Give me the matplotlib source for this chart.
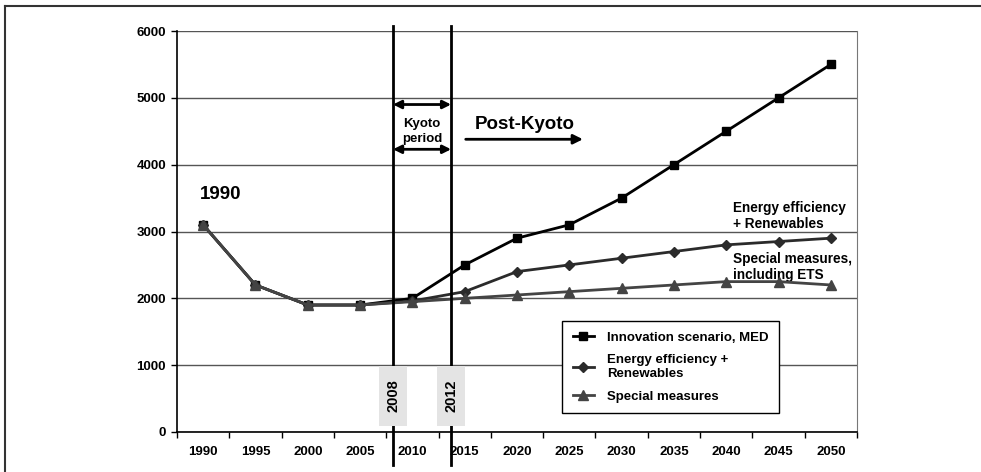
import numpy as np
import matplotlib.pyplot as plt
from matplotlib.patches import Rectangle
from matplotlib.lines import Line2D

plt.rcParams['font.family'] = ['Liberation Sans', 'DejaVu Sans']
plt.rcParams['font.weight'] = 'bold'

years = ['1990', '1995', '2000', '2005', '2010', '2015', '2020',
         '2025', '2030', '2035', '2040', '2045', '2050']
innovation = [3100, 2200, 1900, 1900, 2000, 2500, 2900, 3100, 3500, 4000, 4500, 5000, 5500]
efficiency = [3100, 2200, 1900, 1900, 1960, 2100, 2400, 2500, 2600, 2700, 2800, 2850, 2900]
special = [3100, 2200, 1900, 1900, 1950, 2000, 2050, 2100, 2150, 2200, 2250, 2250, 2200]
kyoto_years = ['2008', '2012']

x = np.arange(len(years))

fig = plt.figure(figsize=(9.81, 4.72), dpi=100)
ax = fig.add_axes([177 / 981, 40 / 472, 680 / 981, 401 / 472])

ax.plot(x, innovation, color='black', lw=2, marker='s', ms=6, zorder=4,
        label='Innovation scenario, MED')
ax.plot(x, efficiency, color='#2b2b2b', lw=2, marker='D', ms=4.8, zorder=4,
        label='Energy efficiency +\nRenewables')
ax.plot(x, special, color='#444444', lw=2, marker='^', ms=6.5, zorder=5,
        label='Special measures')

ax.set_xlim(-0.5, len(years) - 0.5)
ax.set_ylim(0, 6000)
ax.set_yticks(range(0, 6001, 1000))
ax.grid(axis='y', color='#555555', lw=1)
ax.set_axisbelow(True)

ax.set_xticks(x)
ax.set_xticklabels(years)
ax.set_xticks(np.arange(-0.5, len(years)), minor=True)
ax.tick_params(axis='x', which='major', length=0, pad=10, labelsize=9.5)
ax.tick_params(axis='x', which='minor', length=4, direction='out', width=1)
ax.tick_params(axis='y', length=4, width=1, pad=4, labelsize=9.5)
for lab in ax.get_xticklabels() + ax.get_yticklabels():
    lab.set_fontweight('bold')

ax.spines['top'].set_visible(False)
ax.spines['right'].set_color('#777777')
ax.spines['left'].set_linewidth(1.2)
ax.spines['bottom'].set_linewidth(1.2)

# Kyoto period lines
kx = [3.63, 4.74]
for xv in kx:
    ax.axvline(xv, ymin=-0.082, ymax=1.0125, color='black', lw=2, clip_on=False, zorder=6)

# year labels on gray boxes
for xv, yr in zip(kx, kyoto_years):
    ax.add_patch(Rectangle((xv - 0.27, 90), 0.54, 900, facecolor='#e4e4e4',
                           edgecolor='none', zorder=7))
    ax.text(xv, 540, yr, rotation=90, ha='center', va='center', fontsize=10.5,
            fontweight='bold', zorder=8)

for yv in [4900, 4230]:
    ax.annotate('', xy=(kx[0], yv), xytext=(kx[1], yv),
                arrowprops=dict(arrowstyle='<|-|>', color='black', lw=2,
                                mutation_scale=12, shrinkA=0, shrinkB=0))
ax.text(sum(kx) / 2, 4500, 'Kyoto\nperiod', ha='center', va='center',
        fontsize=9.5, fontweight='bold', linespacing=1.3)

ax.text(5.2, 4600, 'Post-Kyoto', ha='left', va='center', fontsize=13.5, fontweight='bold')
ax.annotate('', xy=(7.26, 4380), xytext=(5.02, 4380),
            arrowprops=dict(arrowstyle='-|>', color='black', lw=2,
                            mutation_scale=14, shrinkA=0, shrinkB=0))

ax.text(-0.06, 3480, '1990', ha='left', va='baseline', fontsize=13.5, fontweight='bold')

ax.text(10.13, 3230, 'Energy efficiency\n+ Renewables', ha='left', va='center',
        fontsize=9.8, fontweight='bold', linespacing=1.15)
ax.text(10.13, 2470, 'Special measures,\nincluding ETS', ha='left', va='center',
        fontsize=9.8, fontweight='bold', linespacing=1.15)

leg = ax.legend(loc='upper left', bbox_to_anchor=(562 / 981, 1 - 321 / 472),
                bbox_transform=fig.transFigure, borderaxespad=0, fancybox=False,
                framealpha=1, edgecolor='black', fontsize=9.5, handlelength=1.6,
                handletextpad=1.0, labelspacing=0.8, borderpad=0.8)
leg.get_frame().set_linewidth(1)
for t in leg.get_texts():
    t.set_fontweight('bold')

# outer frame
fig.add_artist(Line2D([5 / 981, 5 / 981], [0, 1 - 6 / 472], color='#333333', lw=1.5))
fig.add_artist(Line2D([5 / 981, 1], [1 - 6 / 472, 1 - 6 / 472], color='#333333', lw=1.5))

fig.savefig('out.png', dpi=100)
